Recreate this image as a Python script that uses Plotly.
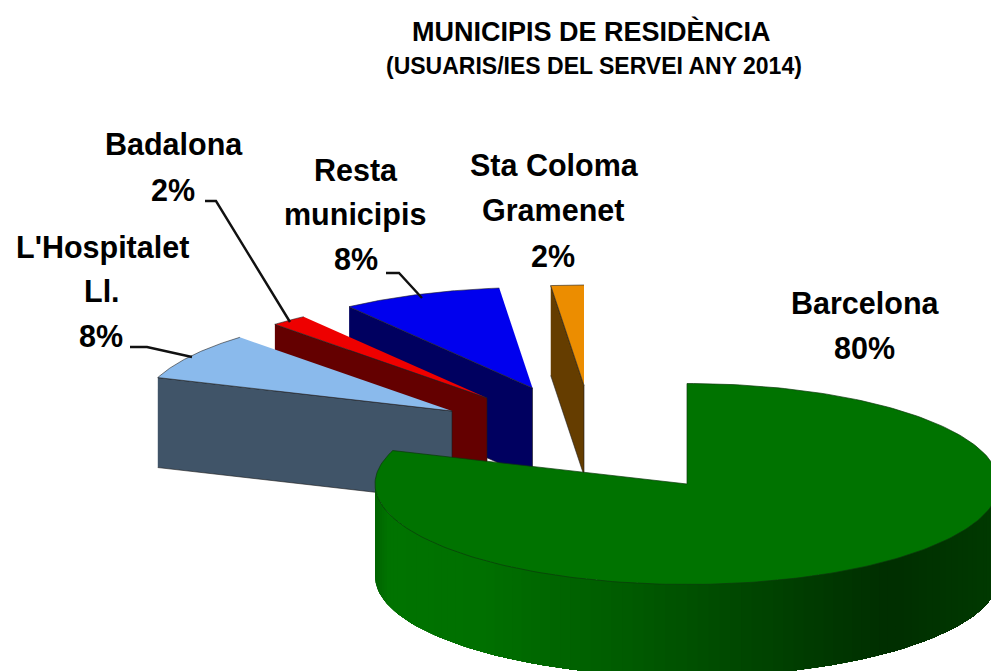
import numpy as np
import plotly.graph_objects as go

# --- data ---
categories = ["Barcelona", "L'Hospitalet\nLl.", "Badalona", "Resta\nmunicipis", "Sta Coloma\nGramenet"]
values = [80.4, 7.7, 1.9, 8.3, 1.7]

# --- styles ---
top_colors = ["#007300", "#8abaec", "#ee0000", "#0000ee", "#ec8d00"]
wall_colors = ["#006800", "#405468", "#640000", "#000060", "#653d00"]
FONT = "Liberation Sans, Arial, sans-serif"

# --- layout of the projected pie (pixel frame of the axes) ---
W, H = 991, 671
RX, RY = 312, 100.5
DEPTH = 90
apexes = [(687, 484), (452, 411), (487, 398), (532.5, 388), (584, 385.5)]
label_pos = [
    [(865, 303), (864, 348)],
    [(102, 247), (102, 291), (101, 336)],
    [(174, 144), (173, 190)],
    [(356, 170), (355, 214), (356, 259)],
    [(554, 165), (553, 210), (553, 256)],
]
leaders = [
    None,
    [(130, 347), (147, 347), (192, 357)],
    [(205, 201), (216, 201), (290, 322)],
    [(386, 273), (399, 273), (422, 298)],
    None,
]

fig = go.Figure()


def poly(xs, ys, fill, line=None, lw=0.8):
    fig.add_trace(go.Scatter(
        x=list(xs), y=list(ys), mode="lines", fill="toself", fillcolor=fill,
        line=dict(color=line or fill, width=lw), hoverinfo="skip", showlegend=False,
    ))


def arc(cx, cy, a0, a1, n=80):
    t = np.radians(np.linspace(a0, a1, n))
    return cx + RX * np.sin(t), cy - RY * np.cos(t)


# angles run clockwise from twelve o'clock, first slice starts at 0
edges = np.cumsum([0.0] + values) / sum(values) * 360.0

# painter's order: back slices first, the big slice last
for i in [4, 3, 2, 1]:
    cx, cy = apexes[i]
    a0, a1 = edges[i], edges[i + 1]
    ax, ay = arc(cx, cy, a0, a1)
    # cut face joining the left outer corner with the apex
    poly([ax[0], cx, cx, ax[0]], [ay[0], cy, cy + DEPTH, ay[0] + DEPTH], wall_colors[i], "#1a1a1a", 0.6)
    poly(np.r_[cx, ax], np.r_[cy, ay], top_colors[i], "#222222", 0.6)

# big slice: curved outer wall shaded left to right, each band overlapping the next
cx, cy = apexes[0]
a0, a1 = edges[0], edges[1]
stops_x = [-312, -300, -210, -60, 195, 312]
stops_c = [(0, 100, 0), (0, 115, 0), (0, 112, 0), (0, 90, 0), (0, 46, 0), (0, 58, 0)]
t = np.radians(np.linspace(270, 90, 91))
for k in range(len(t) - 1):
    tt = np.linspace(t[k], t[-1], max(2, (len(t) - k)))
    x = cx + RX * np.sin(tt)
    y = cy - RY * np.cos(tt)
    dx = RX * np.sin(t[k])
    shade = [np.interp(dx, stops_x, [c[j] for c in stops_c]) for j in range(3)]
    col = "rgb(%d,%d,%d)" % tuple(round(v) for v in shade)
    poly(np.r_[x, x[::-1]], np.r_[y, y[::-1] + DEPTH + 2], col, col, 0)
# top of the big slice
ax, ay = arc(cx, cy, a0, a1, 240)
poly(np.r_[cx, ax, cx], np.r_[cy, ay, cy], top_colors[0], "#0b3a0b", 0.7)

# leader lines
for pts in leaders:
    if pts:
        fig.add_trace(go.Scatter(
            x=[p[0] for p in pts], y=[p[1] for p in pts], mode="lines",
            line=dict(color="#111111", width=2.4), hoverinfo="skip", showlegend=False,
        ))

# category labels with rounded percentages
for name, v, pos in zip(categories, values, label_pos):
    lines = name.split("\n") + ["%d%%" % round(v)]
    for text, (x, y) in zip(lines, pos):
        fig.add_annotation(x=x, y=y, text=f"<b>{text}</b>", showarrow=False,
                           xanchor="center", yanchor="middle",
                           font=dict(family=FONT, size=30.5, color="#000000"))

# titles
fig.add_annotation(x=591, y=31, text="<b>MUNICIPIS DE RESIDÈNCIA</b>", showarrow=False,
                   xanchor="center", yanchor="middle",
                   font=dict(family=FONT, size=27, color="#000000"))
fig.add_annotation(x=594, y=66, text="<b>(USUARIS/IES DEL SERVEI ANY 2014)</b>", showarrow=False,
                   xanchor="center", yanchor="middle",
                   font=dict(family=FONT, size=23, color="#000000"))

fig.update_layout(
    width=W, height=H, margin=dict(l=0, r=0, t=0, b=0),
    paper_bgcolor="white", plot_bgcolor="white", showlegend=False,
    xaxis=dict(range=[0, W], visible=False, fixedrange=True),
    yaxis=dict(range=[H, 0], visible=False, fixedrange=True),
)
fig.write_html(
    "out.html", config=dict(displayModeBar=False),
    post_script="document.body.style.margin='0';document.documentElement.style.overflow='hidden';",
)
